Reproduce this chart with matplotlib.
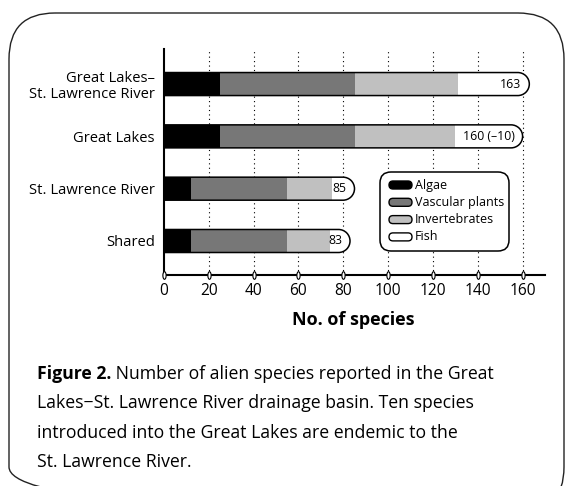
import matplotlib
matplotlib.use("Agg")
import matplotlib.pyplot as plt
from matplotlib.path import Path
from matplotlib.patches import PathPatch, FancyBboxPatch
from matplotlib.transforms import Affine2D
import numpy as np

plt.rcParams['font.family'] = ['Open Sans', 'DejaVu Sans']

categories = ["Great Lakes–\nSt. Lawrence River", "Great Lakes", "St. Lawrence River", "Shared"]
algae = [25, 25, 12, 12]
vascular = [60, 60, 43, 43]
invertebrates = [46, 45, 20, 19]
fish = [32, 30, 10, 9]
bar_labels = ["163", "160 (–10)", "85", "83"]
series_names = ["Algae", "Vascular plants", "Invertebrates", "Fish"]
series_colors = ["#000000", "#777777", "#c0c0c0", "#ffffff"]
xticks = [0, 20, 40, 60, 80, 100, 120, 140, 160]
xlabel = "No. of species"
caption_bold = "Figure 2."
caption_lines = [" Number of alien species reported in the Great",
                 "Lakes\u2212St. Lawrence River drainage basin. Ten species",
                 "introduced into the Great Lakes are endemic to the",
                 "St. Lawrence River."]

W, H = 566, 486
fig = plt.figure(figsize=(W / 100, H / 100), dpi=100)
pix = Affine2D().scale(1, -1).translate(0, H)  # pixel coords, y from top

# outer rounded frame
frame = FancyBboxPatch((9, 13), 555, 500, boxstyle="round,pad=0,rounding_size=46",
                       transform=pix, fill=False, edgecolor="#222222", linewidth=1.0)
fig.patches.append(frame)

ax = fig.add_axes([164 / W, 1 - 275 / H, (545 - 164) / W, (275 - 49) / H])
ypos = np.arange(len(categories))[::-1].astype(float)
ax.set_xlim(0, 170)
ax.set_ylim(-0.65, 3.67)
h = 0.44

for s in ["top", "right"]:
    ax.spines[s].set_visible(False)
for s in ["left", "bottom"]:
    ax.spines[s].set_linewidth(1.5)
    ax.spines[s].set_zorder(6)

# gridlines
for t in xticks[1:]:
    ax.axvline(t, color="black", linewidth=0.8, linestyle=(0, (1, 3)), zorder=0)

ax.set_xticks(xticks)
ax.tick_params(axis="x", length=0, pad=6, labelsize=11.2)
ax.set_yticks(ypos)
ax.set_yticklabels(categories, fontsize=10.6, linespacing=1.1)
ax.tick_params(axis="y", length=0, pad=6.5)

# tick ovals
circ = Path.unit_circle()
oval = Path(circ.vertices * np.array([0.42, 1.0]), circ.codes)
ax.plot(xticks, [ax.get_ylim()[0]] * len(xticks), linestyle="none", marker=oval,
        markersize=5.5, markerfacecolor="white", markeredgecolor="black",
        markeredgewidth=0.8, clip_on=False, zorder=7)

fig.canvas.draw()
totals = [a + v + i + f for a, v, i, f in zip(algae, vascular, invertebrates, fish)]

def pill_path(y, total):
    x0, y0 = ax.transData.transform((0, y - h / 2))
    x1, y1 = ax.transData.transform((total, y + h / 2))
    r = (y1 - y0) / 2
    cy = (y0 + y1) / 2
    arc = Path.arc(-90, 90)
    av = arc.vertices * r + np.array([x1 - r, cy])
    verts = [(x0, y0), (x1 - r, y0)] + [tuple(v) for v in av[1:]] + [(x0, y1), (x0, y0)]
    codes = [Path.MOVETO, Path.LINETO] + list(arc.codes[1:]) + [Path.LINETO, Path.CLOSEPOLY]
    return Path(verts, codes)

for k, y in enumerate(ypos):
    p = pill_path(y, totals[k])
    ax.add_patch(PathPatch(p, transform=None, facecolor="white", edgecolor="none", zorder=2))
    ax.add_patch(PathPatch(p, transform=None, facecolor="none", edgecolor="black",
                           linewidth=1.1, zorder=4))

left = np.zeros(len(categories))
for vals, col in zip([algae, vascular, invertebrates], series_colors[:3]):
    ax.barh(ypos, vals, height=h, left=left, color=col, edgecolor="none", zorder=3)
    left += np.array(vals)

for k, y in enumerate(ypos):
    xd, _ = ax.transData.transform((totals[k], y))
    xl, _ = ax.transData.inverted().transform((xd - 8, 0))
    ax.text(xl, y, bar_labels[k], ha="right", va="center", fontsize=8.8, zorder=5)

# x label
fig.text(353 / W, 1 - 320 / H, xlabel, ha="center", va="center", fontsize=13, fontweight="bold")

# legend (manual)
lg = FancyBboxPatch((380, 172), 129, 79, boxstyle="round,pad=0,rounding_size=11",
                    transform=pix, facecolor="white", edgecolor="black", linewidth=1.1, zorder=10)
fig.patches.append(lg)
for j, (name, col) in enumerate(zip(series_names, series_colors)):
    yc = 185 + j * 17.3
    m = FancyBboxPatch((389, yc - 4), 23, 8, boxstyle="round,pad=0,rounding_size=4",
                       transform=pix, facecolor=col, edgecolor="black", linewidth=1.0, zorder=11)
    fig.patches.append(m)
    fig.text(415 / W, 1 - yc / H, name, ha="left", va="center", fontsize=9, zorder=12)

# caption
cap_x = 37 / W
ys = [374, 403, 433, 462]
t = fig.text(cap_x, 1 - ys[0] / H, caption_bold, ha="left", va="center", fontsize=12.7, fontweight="bold")
fig.canvas.draw()
bb = t.get_window_extent()
fig.text(bb.x1 / W, 1 - ys[0] / H, caption_lines[0], ha="left", va="center", fontsize=12.7)
for line, yy in zip(caption_lines[1:], ys[1:]):
    fig.text(cap_x, 1 - yy / H, line, ha="left", va="center", fontsize=12.7)

fig.savefig("out.png", dpi=100)
